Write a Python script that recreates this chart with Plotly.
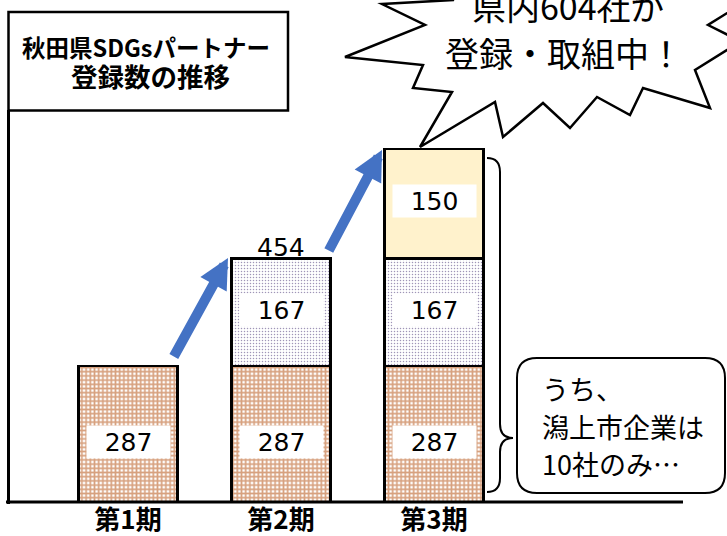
import plotly.graph_objects as go

# ---------------- data ----------------
periods = ["第1期", "第2期", "第3期"]
first_reg = [287, 287, 287]        # 第1期 registrations (label values)
second_reg = [None, 167, 167]      # 第2期 registrations
third_reg = [None, None, 150]      # 第3期 registrations
bar2_total = 454
# the infographic stacks are not drawn to scale: heights as drawn
first_drawn = [136, 136, 136]
second_drawn = [None, 107.5, 107.5]
third_drawn = [None, None, 109.5]

title_lines = ["秋田県SDGsパートナー", "登録数の推移"]
bubble_lines = ["県内604社が", "登録・取組中！"]
callout_lines = ["うち、", "潟上市企業は", "10社のみ…"]

# ---------------- layout helpers ----------------
W, H = 727, 536
MB = 34
PH = H - MB


def P(x, y):
    return x / W, (PH - y) / PH


def fmt(x, y):
    a, b = P(x, y)
    return f"{a:.5f},{b:.5f}"


def path(points, close=True):
    s = ""
    for i, (x, y) in enumerate(points):
        s += ("M" if i == 0 else "L") + fmt(x, y)
    return s + ("Z" if close else "")


JP = "Noto Sans CJK JP"
NUM = "DejaVu Sans"

fig = go.Figure()
bar_w = 0.645
fig.add_trace(go.Bar(
    x=periods, y=first_drawn, width=bar_w,
    marker=dict(color="white",
                pattern=dict(shape="+", fgcolor="#B04400", bgcolor="white", size=4.2, solidity=0.64),
                line=dict(color="black", width=2.5)),
    hoverinfo="skip"))
fig.add_trace(go.Bar(
    x=periods, y=second_drawn, width=bar_w,
    marker=dict(color="white",
                pattern=dict(shape=".", fgcolor="#3F2A70", bgcolor="white", size=3, solidity=0.2),
                line=dict(color="black", width=2.5)),
    hoverinfo="skip"))
fig.add_trace(go.Bar(
    x=periods, y=third_drawn, width=bar_w,
    marker=dict(color="#FFF2CC", line=dict(color="black", width=2.5)),
    hoverinfo="skip"))

ann = []
# segment value boxes
all_drawn = (first_drawn, second_drawn, third_drawn)
all_vals = (first_reg, second_reg, third_reg)
yshifts = (-8, 2, 3)
for k in range(3):
    for i, v in enumerate(all_vals[k]):
        if v is None:
            continue
        base = sum(all_drawn[j][i] or 0 for j in range(k))
        mid = base + all_drawn[k][i] / 2
        ann.append(dict(x=periods[i], y=mid, xref="x", yref="y", text=str(v), showarrow=False,
                        xanchor="center", yanchor="middle",
                        font=dict(family=NUM, size=25, color="black"), bgcolor="white",
                        width=83, height=32, borderpad=0, yshift=yshifts[k]))
# total above bar 2
top2 = first_drawn[1] + second_drawn[1]
ann.append(dict(x=periods[1], y=top2, xref="x", yref="y", text=str(bar2_total), showarrow=False,
                xanchor="center", yanchor="bottom", yshift=-5,
                font=dict(family=NUM, size=25, color="black")))


def ptext(t, cx, cy, size, weight="normal", xanchor="center"):
    x, y = P(cx, cy)
    return dict(x=x, y=y, xref="paper", yref="paper", text=t, showarrow=False,
                xanchor=xanchor, yanchor="middle",
                font=dict(family=JP, size=size, color="black", weight=weight))


# title
ann.append(ptext(title_lines[0], 146, 47, 23.5, "bold"))
ann.append(ptext(title_lines[1], 150, 76, 26.5, "bold"))
# bubble text
ann.append(ptext(bubble_lines[0], 568, 6, 34))
ann.append(ptext(bubble_lines[1], 564, 52, 34))
# callout text
for (t, cy) in zip(callout_lines, [388, 426, 463]):
    ann.append(ptext(t, 540, cy, 27, xanchor="left"))
# blue arrows
for (tip, tail) in [((228, 258), (173, 358)), ((382, 150), (328, 252))]:
    x, y = P(*tip)
    ann.append(dict(x=x, y=y, xref="paper", yref="paper", text="", showarrow=True,
                    ax=tail[0] - tip[0], ay=tail[1] - tip[1], arrowhead=2, arrowsize=0.6,
                    arrowwidth=10, arrowcolor="#4472C4", standoff=0))

shapes = []
# axis lines
x0, y0 = P(6, 502)
x1, _ = P(683, 502)
shapes.append(dict(type="line", xref="paper", yref="paper", x0=x0, y0=y0, x1=x1, y1=y0,
                   line=dict(color="black", width=3)))
xa, ya = P(8.5, 110)
_, yb = P(8.5, 504)
shapes.append(dict(type="line", xref="paper", yref="paper", x0=xa, y0=ya, x1=xa, y1=yb,
                   line=dict(color="black", width=3)))
# title box
bx0, by0 = P(8.5, 12)
bx1, by1 = P(288, 110.5)
shapes.append(dict(type="rect", xref="paper", yref="paper", x0=bx0, y0=by1, x1=bx1, y1=by0,
                   line=dict(color="black", width=2.5), fillcolor="white", layer="below"))
# explosion bubble
bubble = [(420, 147), (452, 92), (413, 88), (423, 65), (345, 57), (425, 25), (382, 4), (453, 0),
          (465, -40), (560, -30), (650, -45), (740, 5), (708, 25), (750, 46), (727, 50),
          (695, 70), (710, 108), (643, 88), (630, 115), (597, 97), (570, 128), (543, 103),
          (503, 137), (495, 102)]
shapes.append(dict(type="path", xref="paper", yref="paper", path=path(bubble),
                   line=dict(color="black", width=2.5), fillcolor="white"))


# rounded callout box
def rrect(x0, y0, x1, y1, r):
    s = "M" + fmt(x0 + r, y0) + "L" + fmt(x1 - r, y0) + "Q" + fmt(x1, y0) + " " + fmt(x1, y0 + r)
    s += "L" + fmt(x1, y1 - r) + "Q" + fmt(x1, y1) + " " + fmt(x1 - r, y1)
    s += "L" + fmt(x0 + r, y1) + "Q" + fmt(x0, y1) + " " + fmt(x0, y1 - r)
    s += "L" + fmt(x0, y0 + r) + "Q" + fmt(x0, y0) + " " + fmt(x0 + r, y0) + "Z"
    return s


shapes.append(dict(type="path", xref="paper", yref="paper", path=rrect(517, 358, 725, 493, 20),
                   line=dict(color="black", width=2), fillcolor="white"))

# curly bracket
b = [fmt(x, y) for (x, y) in [(487, 158), (500, 158), (500, 172), (500, 424), (500, 438),
                              (513, 438), (500, 438), (500, 452), (500, 478), (500, 492),
                              (487, 492)]]
bpath = (f"M{b[0]}Q{b[1]} {b[2]}L{b[3]}Q{b[4]} {b[5]}Q{b[6]} {b[7]}L{b[8]}Q{b[9]} {b[10]}")
shapes.append(dict(type="path", xref="paper", yref="paper", path=bpath,
                   line=dict(color="black", width=2)))

fig.update_layout(
    width=W, height=H, margin=dict(l=0, r=0, t=0, b=MB, autoexpand=False),
    barmode="stack", showlegend=False, plot_bgcolor="white", paper_bgcolor="white",
    annotations=ann, shapes=shapes, hovermode=False,
    xaxis=dict(type="category", range=[-128 / 153, (W - 128) / 153], showgrid=False,
               zeroline=False, showline=False, ticks="", ticklen=0, ticklabelstandoff=0,
               automargin=False,
               tickfont=dict(family=JP, size=26, color="black", weight="bold")),
    yaxis=dict(range=[0, PH], visible=False, showgrid=False, zeroline=False, automargin=False),
)

fig.write_html("out.html", config={"displayModeBar": False, "staticPlot": True},
               post_script="document.body.style.margin='0';"
                           "document.documentElement.style.overflow='hidden';")
